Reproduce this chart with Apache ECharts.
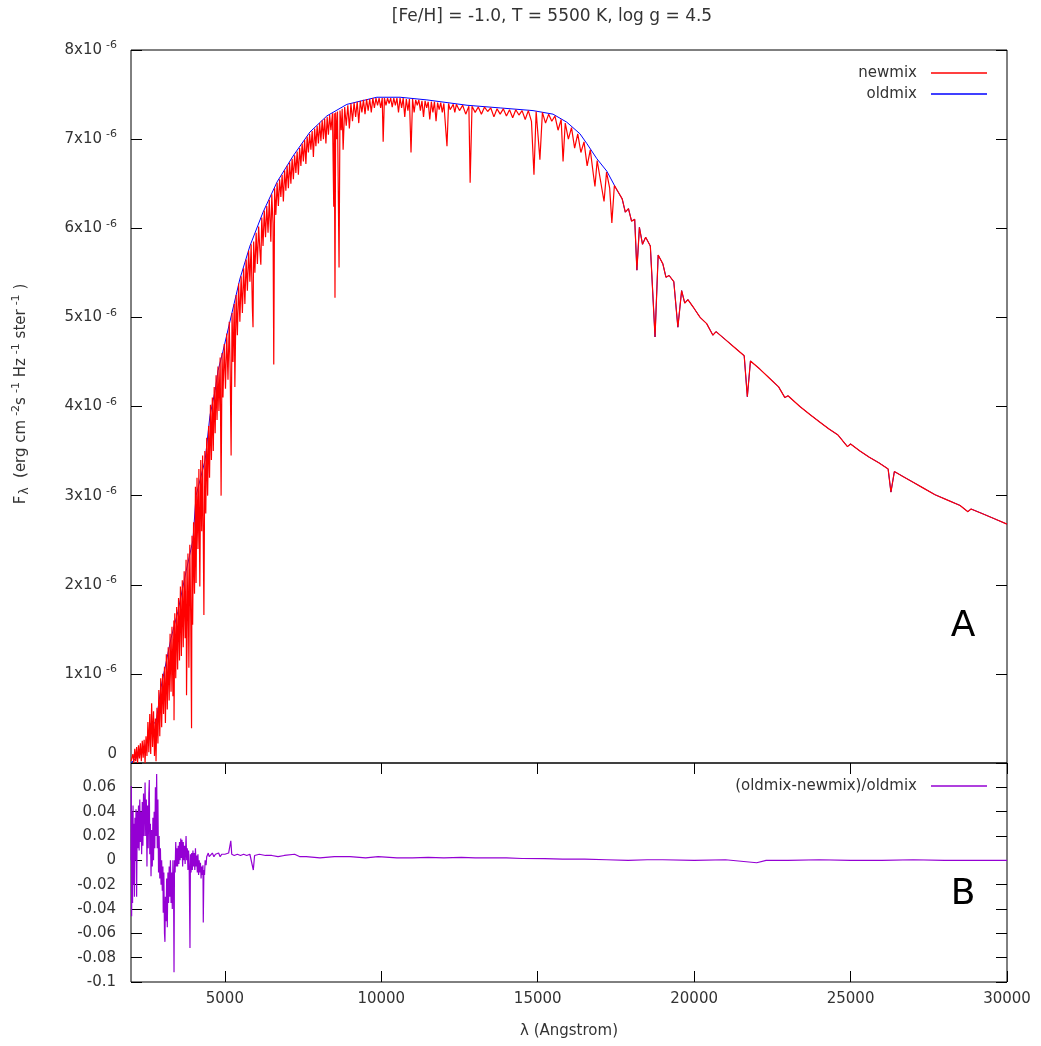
<!DOCTYPE html>
<html>
<head>
<meta charset="utf-8">
<script src="https://cdn.jsdelivr.net/npm/echarts@6/dist/echarts.min.js"></script>
<style>html,body{margin:0;padding:0;background:#fff}#c{width:1041px;height:1046px}</style>
</head>
<body>
<div id="c"></div>
<script>
// ---------- data (wavelength in Angstrom, flux in units of 1e-6) ----------
const chartTitle = '[Fe/H] = -1.0, T = 5500 K, log g = 4.5';
const xTicks = [5000, 10000, 15000, 20000, 25000, 30000];
const seriesNames = ['newmix', 'oldmix', '(oldmix-newmix)/oldmix'];

const newmixUV = [[2000,0.02],[2030,0.00],[2060,0.10],[2090,0.00],[2120,0.16],[2150,0.02],[2180,0.18],[2210,0.00],[2240,0.20],[2270,0.05],[2300,0.22],[2330,0.02],[2360,0.25],[2390,0.06],[2420,0.26],[2450,0.00],[2480,0.30],[2510,0.08],[2540,0.46],[2570,0.12],[2600,0.55],[2630,0.10],[2660,0.67],[2690,0.18],[2720,0.58],[2750,0.08],[2780,0.50],[2800,0.02],[2830,0.62],[2860,0.22],[2890,0.82],[2920,0.30],[2950,0.95],[2980,0.40],[3010,1.00],[3040,0.55],[3070,1.08],[3100,0.45],[3130,1.22],[3160,0.60],[3190,1.30],[3220,0.70],[3250,1.45],[3280,0.80],[3310,1.53],[3340,0.75],[3370,1.60],[3375,0.48],[3400,1.68],[3430,0.95],[3460,1.75],[3490,1.05],[3520,1.85],[3550,1.15],[3580,1.98],[3610,1.20],[3640,2.05],[3670,1.30],[3700,2.15],[3730,1.40],[3760,2.28],[3775,0.76],[3820,2.35],[3850,1.07],[3880,2.45],[3910,1.60],[3935,0.39],[3950,2.55],[3970,1.55],[4000,2.70],[4030,1.90],[4060,3.10],[4080,2.02],[4110,3.20],[4140,2.40],[4170,3.30],[4200,1.98],[4230,3.40],[4260,2.60],[4290,3.45],[4330,1.66],[4360,3.50],[4390,2.80],[4420,3.65],[4450,3.00],[4480,3.78],[4510,3.20],[4540,4.02],[4570,3.40],[4600,4.10],[4630,3.50],[4660,4.22],[4690,3.70],[4720,4.35],[4750,3.85],[4780,4.45],[4810,3.95],[4850,4.55],[4880,3.00],[4910,4.60],[4940,4.10],[4980,4.70],[5020,4.20],[5060,4.82],[5100,4.30],[5140,4.95],[5170,4.40],[5200,3.45],[5230,5.05],[5260,4.50],[5300,5.15],[5320,4.22],[5360,5.25],[5400,4.80]];

const newmixVis = [[5440,5.38],[5480,4.95],[5520,5.46],[5560,5.05],[5600,5.55],[5640,5.15],[5680,5.65],[5720,5.30],[5760,5.75],[5800,5.40],[5840,5.82],[5880,5.10],[5900,4.89],[5920,5.85],[5960,5.50],[6000,5.95],[6040,5.60],[6080,6.02],[6120,5.75],[6150,5.59],[6180,6.12],[6220,5.80],[6260,6.20],[6300,5.90],[6340,6.25],[6380,5.95],[6420,6.32],[6470,5.85],[6500,6.38],[6540,6.05],[6563,4.47],[6590,6.45],[6630,6.15],[6670,6.51],[6710,6.25],[6750,6.55],[6790,6.35],[6830,6.60],[6870,6.30],[6910,6.65],[6950,6.42],[6990,6.70],[7030,6.45],[7070,6.74],[7110,6.50],[7150,6.78],[7190,6.55],[7230,6.82],[7270,6.62],[7310,6.86],[7350,6.60],[7390,6.90],[7430,6.70],[7470,6.95],[7510,6.75],[7550,6.99],[7590,6.72],[7630,7.03],[7670,6.85],[7710,7.06],[7750,6.88],[7790,7.09],[7830,6.80],[7870,7.12],[7910,6.92],[7950,7.15],[7990,6.95],[8030,7.18],[8070,6.98],[8110,7.21],[8150,7.00],[8190,7.23],[8230,6.95],[8270,7.25],[8310,7.05],[8350,7.27],[8390,7.10],[8440,7.29],[8480,6.24],[8498,7.29],[8520,5.22],[8542,7.30],[8570,7.00],[8600,7.31],[8650,5.56],[8680,7.32],[8720,7.10],[8750,7.34],[8780,6.88],[8830,7.36],[8880,7.15],[8930,7.38],[8980,7.12],[9030,7.40],[9080,7.20],[9130,7.41],[9180,7.25],[9230,7.42],[9280,7.18],[9330,7.43],[9380,7.30],[9430,7.44],[9480,7.28],[9530,7.45],[9580,7.32],[9630,7.45],[9680,7.30],[9730,7.46],[9780,7.35],[9830,7.46],[9880,7.38],[9930,7.46],[9980,7.35],[10030,7.46],[10060,6.97]];

const newmixRed = [[10100,7.46],[10150,7.38],[10200,7.46],[10250,7.40],[10300,7.46],[10350,7.36],[10400,7.46],[10450,7.38],[10500,7.46],[10550,7.30],[10600,7.46],[10650,7.35],[10700,7.46],[10750,7.25],[10800,7.45],[10850,7.32],[10900,7.45],[10950,6.85],[11000,7.45],[11050,7.30],[11100,7.44],[11150,7.38],[11200,7.44],[11250,7.32],[11300,7.43],[11350,7.25],[11400,7.43],[11450,7.35],[11500,7.42],[11550,7.22],[11600,7.42],[11650,7.30],[11700,7.42],[11750,7.20],[11800,7.41],[11850,7.33],[11900,7.41],[11950,7.30],[12000,7.40],[12100,6.92],[12150,7.40],[12200,7.33],[12300,7.39],[12350,7.30],[12400,7.39],[12500,7.32],[12600,7.38],[12700,7.28],[12800,7.37],[12840,6.51],[12900,7.37],[13000,7.30],[13100,7.36],[13200,7.28],[13300,7.36],[13400,7.31],[13500,7.35],[13600,7.25],[13700,7.34],[13800,7.28],[13900,7.34],[14000,7.26],[14100,7.33],[14200,7.24],[14300,7.33],[14400,7.27],[14500,7.32],[14600,7.22],[14700,7.32],[14800,7.20],[14880,6.60],[14950,7.31],[15070,6.77],[15150,7.30],[15250,7.18],[15350,7.28],[15450,7.20],[15550,7.26],[15650,7.10],[15750,7.22],[15810,6.75],[15880,7.18],[15980,7.00],[16080,7.13],[16180,6.90],[16280,7.06],[16380,6.85],[16480,6.97],[16580,6.70],[16680,6.88],[16780,6.60],[16830,6.47],[16900,6.76],[17000,6.55],[17120,6.30],[17200,6.63],[17300,6.45],[17370,6.06],[17450,6.48],[17550,6.42]];

const newmixIR = [[17700,6.33],[17800,6.18],[17900,6.22],[18000,6.08],[18100,6.10],[18170,5.53],[18250,6.01],[18350,5.82],[18450,5.90],[18600,5.80],[18750,4.78],[18850,5.70],[19000,5.60],[19100,5.45],[19200,5.47],[19350,5.40],[19480,4.89],[19600,5.30],[19700,5.16],[19800,5.20],[20000,5.10],[20190,5.00],[20400,4.93],[20600,4.80],[20700,4.84],[21000,4.75],[21300,4.66],[21600,4.57],[21700,4.11],[21800,4.51],[22100,4.42],[22400,4.32],[22700,4.22],[22900,4.10],[23000,4.12],[23380,4.00],[23700,3.91],[24000,3.83],[24300,3.75],[24600,3.68],[24900,3.55],[25000,3.58],[25300,3.50],[25600,3.43],[25900,3.37],[26200,3.30],[26290,3.04],[26400,3.27],[26700,3.21],[27000,3.15],[27300,3.09],[27700,3.01],[28100,2.95],[28500,2.89],[28750,2.82],[28850,2.85],[29200,2.80],[29600,2.74],[30000,2.68]];

const oldmixUV = [[2000,0.00],[2450,0.15],[2640,0.45],[2800,0.45],[2960,0.85],[3280,1.40],[3500,1.70],[3760,2.15],[3980,2.50],[4080,3.00],[4370,3.40],[4525,3.90],[4690,4.18],[4780,4.40],[4940,4.62],[5160,4.95]];
const oldmixVis = [[5480,5.43],[5800,5.80],[6220,6.18],[6670,6.52],[7180,6.81],[7720,7.08],[8260,7.26],[8900,7.39],[9860,7.47],[10600,7.47],[11460,7.44],[12740,7.38],[13800,7.35],[14850,7.32],[15490,7.28],[15930,7.19],[16350,7.06],[16570,6.95],[16890,6.78],[17210,6.64],[17530,6.43]];
// beyond 17600 A both models coincide (ratio ~ 0), oldmix is drawn from the same IR values
const oldmixIR = newmixIR;

const ratioUV = [[2000,0.000],[2010,0.061],[2020,-0.046],[2035,0.040],[2050,-0.035],[2065,0.045],[2080,-0.020],[2095,0.030],[2110,-0.030],[2125,0.035],[2140,0.000],[2160,0.042],[2180,-0.030],[2200,0.040],[2220,0.010],[2240,0.045],[2260,0.008],[2280,0.050],[2300,0.015],[2320,0.040],[2340,0.005],[2360,0.048],[2380,0.012],[2400,0.055],[2420,0.020],[2450,0.064],[2470,0.020],[2490,0.050],[2510,-0.005],[2530,0.045],[2550,0.010],[2570,0.055],[2585,0.066],[2600,0.005],[2620,0.030],[2640,-0.013],[2660,0.025],[2680,-0.005],[2700,0.035],[2720,0.000],[2740,0.040],[2760,0.010],[2780,0.060],[2800,0.020],[2820,0.071],[2840,0.010],[2860,0.050],[2880,-0.010],[2900,0.020],[2920,-0.015],[2940,0.010],[2960,-0.020],[2980,0.000],[3000,-0.025],[3020,-0.005],[3030,-0.043],[3050,-0.010],[3070,-0.060],[3085,-0.067],[3100,-0.030],[3120,-0.050],[3140,-0.015],[3160,-0.055],[3180,-0.010],[3200,-0.035],[3220,-0.005],[3240,-0.030],[3260,0.000],[3280,-0.035],[3300,-0.010],[3320,-0.040],[3340,0.000],[3360,-0.020],[3375,-0.092],[3390,0.000],[3410,-0.010],[3430,0.015],[3450,-0.005],[3470,0.010],[3490,-0.005],[3510,0.012],[3530,-0.003],[3550,0.015],[3570,0.000],[3590,0.018],[3610,0.002],[3630,0.017],[3650,-0.005],[3670,0.015],[3690,0.000],[3710,0.012],[3730,-0.003],[3760,0.020],[3780,0.000],[3800,0.010],[3820,-0.008],[3840,0.008],[3860,-0.005],[3885,-0.072],[3900,0.005],[3920,-0.010],[3940,0.006],[3960,-0.008],[3980,0.008],[4000,-0.005],[4020,0.006],[4040,-0.008],[4060,0.010],[4080,-0.005],[4100,0.004],[4120,-0.010],[4140,0.005],[4160,-0.012],[4180,0.000],[4200,-0.010],[4220,-0.002],[4240,-0.015],[4260,-0.005],[4280,-0.012],[4300,-0.004],[4310,-0.051],[4330,-0.008],[4350,-0.012],[4370,0.000],[4400,-0.004],[4420,0.003],[4450,0.004],[4470,0.006],[4500,0.003]];

const ratioRest = [[4550,0.004],[4600,0.006],[4650,0.003],[4700,0.005],[4750,0.004],[4800,0.006],[4850,0.003],[4900,0.005],[4950,0.004],[5000,0.005],[5060,0.004],[5120,0.006],[5190,0.016],[5220,0.005],[5300,0.004],[5400,0.005],[5500,0.004],[5600,0.005],[5700,0.004],[5800,0.005],[5910,-0.008],[5950,0.004],[6100,0.005],[6300,0.004],[6500,0.004],[6700,0.003],[6900,0.004],[7230,0.005],[7400,0.003],[7600,0.003],[8040,0.002],[8500,0.003],[9000,0.003],[9500,0.002],[9900,0.003],[10500,0.002],[11000,0.002],[11500,0.0025],[12000,0.002],[12560,0.0025],[13000,0.002],[13500,0.002],[14000,0.002],[14500,0.0015],[15220,0.0014],[15800,0.001],[16500,0.001],[17200,0.0005],[17890,0.0],[18500,0.0005],[19000,0.0005],[20000,0.0],[21000,0.0005],[22000,-0.002],[22300,0.0],[23000,0.0],[24000,0.0005],[25000,0.0],[26000,0.0],[27000,0.0005],[28000,0.0],[29000,0.0],[30000,0.0]];

// ---------- chart ----------
const FONT = '"DejaVu Sans", sans-serif';
const TXT = '#333';
const FS = 15;
const newmix = newmixUV.concat(newmixVis, newmixRed, newmixIR);
const oldmix = oldmixUV.concat(oldmixVis, oldmixIR);
const ratio = ratioUV.concat(ratioRest);

const tickStyle = {inside: true, length: 11, lineStyle: {color: '#000', width: 1}};
const noLine = {show: false, onZero: false};
const chart = echarts.init(document.getElementById('c'));
chart.setOption({
  animation: false,
  backgroundColor: '#fff',
  textStyle: {fontFamily: FONT},
  grid: [
    {left: 131, top: 50, width: 876, height: 713, show: true, borderColor: '#000', borderWidth: 1, backgroundColor: 'transparent'},
    {left: 131, top: 763, width: 876, height: 219, show: true, borderColor: '#000', borderWidth: 1, backgroundColor: 'transparent'}
  ],
  xAxis: [
    {gridIndex: 0, type: 'value', min: 2000, max: 30000, show: false, axisLine: noLine},
    {gridIndex: 1, type: 'value', min: 2000, max: 30000, position: 'bottom',
     axisLine: noLine, splitLine: {show: false},
     axisTick: Object.assign({customValues: xTicks}, tickStyle),
     axisLabel: {customValues: xTicks, margin: 10, color: TXT, fontSize: FS, fontFamily: FONT,
       formatter: v => String(v)},
     name: 'λ (Angstrom)', nameLocation: 'middle', nameGap: 42,
     nameTextStyle: {color: TXT, fontSize: FS, fontFamily: FONT}},
    {gridIndex: 1, type: 'value', min: 2000, max: 30000, position: 'top',
     axisLine: noLine, splitLine: {show: false},
     axisTick: Object.assign({customValues: xTicks}, tickStyle),
     axisLabel: {show: false}}
  ],
  yAxis: [
    {gridIndex: 0, type: 'value', min: 0, max: 8, interval: 1, position: 'left',
     axisLine: noLine, splitLine: {show: false}, axisTick: tickStyle,
     axisLabel: {margin: 14, color: TXT, fontFamily: FONT,
       formatter: v => v === 0 ? '{z|0}' : '{m|' + v + 'x10}{s|-6}',
       rich: {m: {fontSize: FS, color: TXT, fontFamily: FONT},
              s: {fontSize: 11, color: TXT, fontFamily: FONT, padding: [0, 0, 9, 4]},
              z: {fontSize: FS, color: TXT, fontFamily: FONT, padding: [0, 0, 18, 0]}}}},
    {gridIndex: 0, type: 'value', min: 0, max: 8, interval: 1, position: 'right',
     axisLine: noLine, splitLine: {show: false}, axisTick: tickStyle, axisLabel: {show: false}},
    {gridIndex: 1, type: 'value', min: -0.1, max: 0.08, interval: 0.02, position: 'left',
     axisLine: noLine, splitLine: {show: false}, axisTick: tickStyle,
     axisLabel: {margin: 15, color: TXT, fontSize: FS, fontFamily: FONT,
       formatter: v => (Math.abs(v - 0.08) < 1e-9) ? '' : String(parseFloat(v.toFixed(2)) + 0)}},
    {gridIndex: 1, type: 'value', min: -0.1, max: 0.08, interval: 0.02, position: 'right',
     axisLine: noLine, splitLine: {show: false}, axisTick: tickStyle, axisLabel: {show: false}}
  ],
  legend: [
    {data: [seriesNames[0], seriesNames[1]], orient: 'vertical', align: 'right', right: 49, top: 59,
     icon: 'rect', itemWidth: 56, itemHeight: 1.5, itemGap: 3, selectedMode: false,
     textStyle: {fontSize: FS, color: TXT, fontFamily: FONT, lineHeight: 18, padding: [0, 9, 0, 0]}},
    {data: [seriesNames[2]], orient: 'vertical', align: 'right', right: 49, top: 772,
     icon: 'rect', itemWidth: 56, itemHeight: 1.5, selectedMode: false,
     textStyle: {fontSize: FS, color: TXT, fontFamily: FONT, lineHeight: 18, padding: [0, 9, 0, 0]}}
  ],
  series: [
    {name: seriesNames[1], type: 'line', xAxisIndex: 0, yAxisIndex: 0, data: oldmix,
     symbol: 'none', color: '#0000ff', lineStyle: {color: '#0000ff', width: 1}, z: 2},
    {name: seriesNames[0], type: 'line', xAxisIndex: 0, yAxisIndex: 0, data: newmix,
     symbol: 'none', color: '#ff0000', lineStyle: {color: '#ff0000', width: 1.2}, z: 3},
    {name: seriesNames[2], type: 'line', xAxisIndex: 1, yAxisIndex: 2, data: ratio,
     symbol: 'none', color: '#9400d3', lineStyle: {color: '#9400d3', width: 1.2}, z: 3}
  ],
  graphic: [
    {type: 'text', x: 552, y: 17, style: {text: chartTitle, font: '17px ' + FONT, fill: TXT,
      textAlign: 'center', textVerticalAlign: 'middle', align: 'center', verticalAlign: 'middle'}},
    {type: 'text', x: 21, y: 394, rotation: Math.PI / 2,
     style: {text: '{t|F}{b|λ}{t|  (erg cm}{s|-2}{t|s}{s|-1}{t| Hz}{s|-1}{t| ster}{s|-1}{t| )}',
       textAlign: 'center', textVerticalAlign: 'middle', align: 'center', verticalAlign: 'middle',
       fill: TXT, font: FS + 'px ' + FONT,
       rich: {t: {fontSize: FS, fontFamily: FONT, fill: TXT, color: TXT},
              b: {fontSize: 12, fontFamily: FONT, fill: TXT, color: TXT, padding: [8, 0, 0, 1]},
              s: {fontSize: 11, fontFamily: FONT, fill: TXT, color: TXT, padding: [0, 0, 9, 4]}}}},
    {type: 'text', x: 963, y: 627, style: {text: 'A', font: '36px ' + FONT, fill: '#000',
      textAlign: 'center', textVerticalAlign: 'middle', align: 'center', verticalAlign: 'middle'}},
    {type: 'text', x: 963, y: 895, style: {text: 'B', font: '36px ' + FONT, fill: '#000',
      textAlign: 'center', textVerticalAlign: 'middle', align: 'center', verticalAlign: 'middle'}}
  ]
});
</script>
</body>
</html>
